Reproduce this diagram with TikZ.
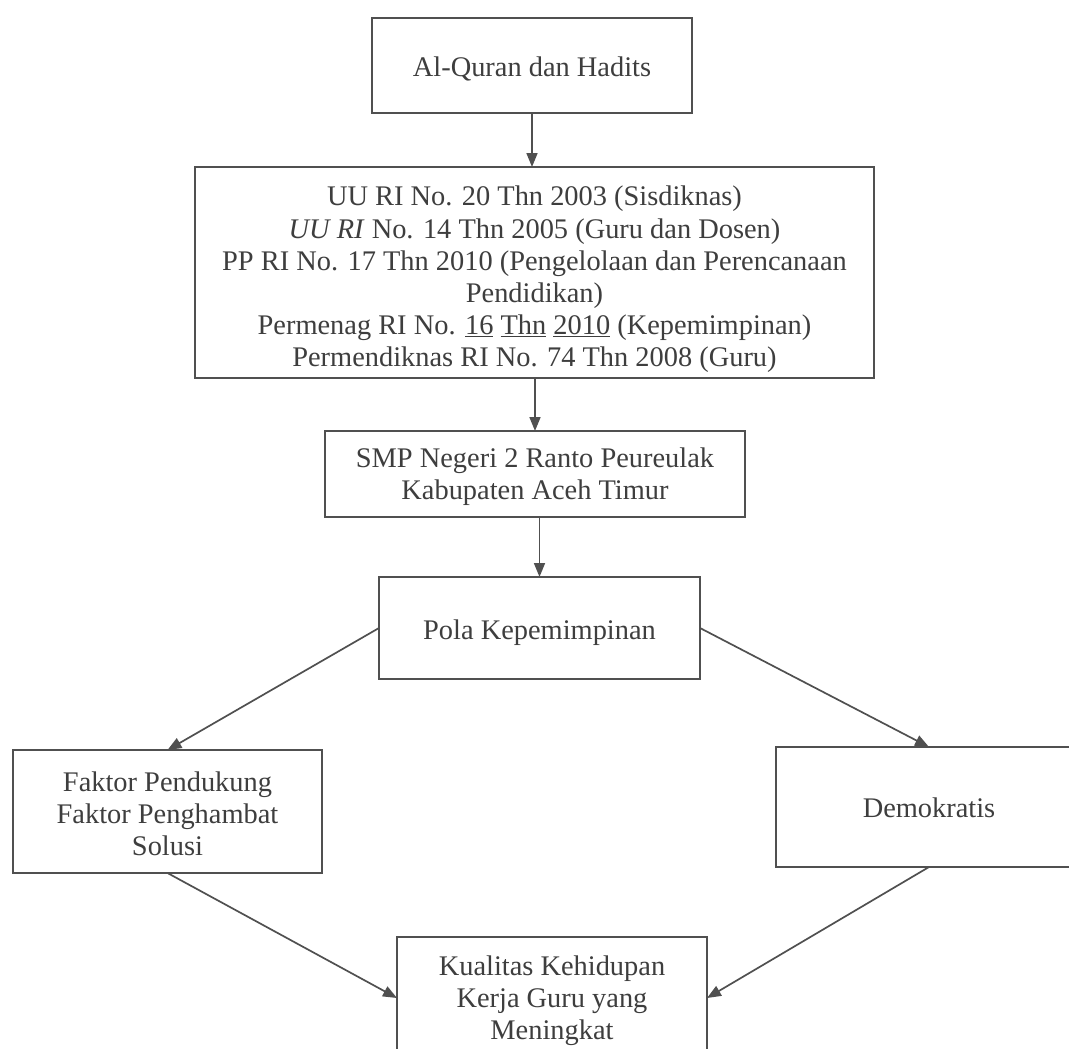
\documentclass[tikz,border=0pt]{standalone}
\usepackage{fontspec}
\setmainfont{Liberation Serif}
\usetikzlibrary{arrows.meta}
\definecolor{ink}{RGB}{62,62,62}
\definecolor{edge}{RGB}{80,80,80}
\tikzset{
  box/.style={draw=edge, line width=1.7pt, fill=white, inner sep=0pt, outer sep=0pt},
  lbl/.style={inner sep=0pt, align=center, text=ink, font=\fontsize{28.4}{32.2}\selectfont},
  conn/.style={draw=edge, line width=1.7pt, -{Triangle[length=14pt,width=11pt]}}
}
\begin{document}
\begin{tikzpicture}[x=1pt,y=-1pt]
\useasboundingbox (0,0) rectangle (1069,1049);
\clip (0,0) rectangle (1069,1049);
% boxes
\node[box, minimum width=320pt, minimum height=95pt] (quran) at (532,65.5) {};
\node[box, minimum width=679pt, minimum height=211pt] (uu) at (534.5,272.5) {};
\node[box, minimum width=420pt, minimum height=86pt] (smp) at (535,474) {};
\node[box, minimum width=321pt, minimum height=102pt] (pola) at (539.5,628) {};
\node[box, minimum width=309pt, minimum height=123pt] (faktor) at (167.5,811.5) {};
\node[box, minimum width=306pt, minimum height=120pt] (demo) at (929,807) {};
\node[box, minimum width=310pt, minimum height=122pt] (kual) at (552,998) {};
% texts
\node[lbl] (quranT) at ([yshift=-3pt]quran.center) {Al-Quran dan Hadits};
\node[lbl] (uuT) at ([yshift=-7pt]uu.center)
  {UU RI No. 20 Thn 2003 (Sisdiknas)\\
   \textit{UU RI} No. 14 Thn 2005 (Guru dan Dosen)\\
   PP RI No. 17 Thn 2010 (Pengelolaan dan Perencanaan\\
   Pendidikan)\\
   Permenag RI No. \underline{16} \underline{Thn} \underline{2010} (Kepemimpinan)\\
   Permendiknas RI No. 74 Thn 2008 (Guru)};
\node[lbl] (smpT) at ([yshift=-3pt]smp.center) {SMP Negeri 2 Ranto Peureulak\\Kabupaten Aceh Timur};
\node[lbl] (polaT) at ([yshift=-5pt]pola.center) {Pola Kepemimpinan};
\node[lbl] (faktorT) at ([yshift=-2.5pt]faktor.center) {Faktor Pendukung\\Faktor Penghambat\\Solusi};
\node[lbl] (demoT) at ([yshift=-1pt]demo.center) {Demokratis};
\node[lbl] (kualT) at ([yshift=-3pt]kual.center) {Kualitas Kehidupan\\Kerja Guru yang\\Meningkat};
% connectors
\draw[conn] (quran.south) -- (quran.south |- uu.north);
\draw[conn] (uu.south -| smp.north) -- (smp.north);
\draw[conn] (smp.south -| pola.north) -- (pola.north);
\draw[conn] (pola.west) -- (faktor.north);
\draw[conn] (pola.east) -- (demo.north);
\draw[conn] (faktor.south) -- (kual.west);
\draw[conn] (demo.south) -- (kual.east);
\end{tikzpicture}
\end{document}
